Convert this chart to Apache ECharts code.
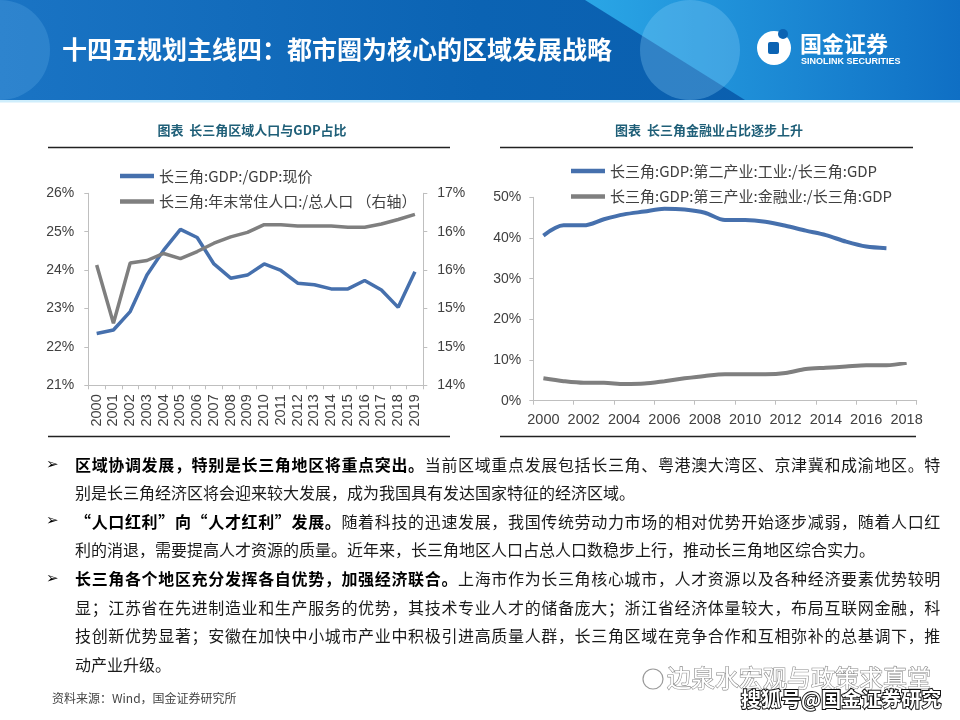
<!DOCTYPE html>
<html>
<head>
<meta charset="utf-8">
<script src="https://cdn.jsdelivr.net/npm/echarts@6/dist/echarts.min.js"></script>
<style>
html,body{margin:0;padding:0;background:#fff;}
#main{width:960px;height:720px;}
</style>
</head>
<body>
<div id="main"></div>
<script>
// ---------------- data ----------------
const yearsLeft = ['2000','2001','2002','2003','2004','2005','2006','2007','2008','2009','2010','2011','2012','2013','2014','2015','2016','2017','2018','2019'];
const gdpShare = [22.35,22.44,22.92,23.87,24.52,25.06,24.85,24.16,23.79,23.87,24.16,23.99,23.66,23.62,23.51,23.51,23.73,23.48,23.03,23.96];
const popShare = [15.88,14.97,15.91,15.95,16.06,15.98,16.09,16.22,16.32,16.39,16.51,16.51,16.49,16.49,16.49,16.47,16.47,16.52,16.59,16.67];
const leftAxisTicks = ['21%','22%','23%','24%','25%','26%'];
const rightAxisTicks = ['14%','15%','15%','16%','16%','17%'];

const yearsRight = ['2000','2001','2002','2003','2004','2005','2006','2007','2008','2009','2010','2011','2012','2013','2014','2015','2016','2017','2018'];
const industryShare = [40.6,43.1,43.1,44.6,45.8,46.5,47.2,47.0,46.2,44.4,44.4,44.0,43.0,41.8,40.7,39.1,37.9,37.5];
const financeShare = [5.5,4.8,4.4,4.4,4.1,4.2,4.8,5.5,6.1,6.5,6.5,6.5,6.8,7.8,8.1,8.4,8.7,8.7,9.3];

const nameGdp = '长三角:GDP:/GDP:现价';
const namePop = '长三角:年末常住人口:/总人口 （右轴）';
const nameInd = '长三角:GDP:第二产业:工业:/长三角:GDP';
const nameFin = '长三角:GDP:第三产业:金融业:/长三角:GDP';

const pageTitle = '十四五规划主线四：都市圈为核心的区域发展战略';
const leftTitle = '图表  长三角区域人口与GDP占比';
const rightTitle = '图表  长三角金融业占比逐步上升';

const bodyLines = [
  {b:'区域协调发展，特别是长三角地区将重点突出。', n:'当前区域重点发展包括长三角、粤港澳大湾区、京津冀和成渝地区。特', j:true, bullet:true},
  {b:'', n:'别是长三角经济区将会迎来较大发展，成为我国具有发达国家特征的经济区域。', j:false},
  {b:'“人口红利”向“人才红利”发展。', n:'随着科技的迅速发展，我国传统劳动力市场的相对优势开始逐步减弱，随着人口红', j:true, bullet:true},
  {b:'', n:'利的消退，需要提高人才资源的质量。近年来，长三角地区人口占总人口数稳步上行，推动长三角地区综合实力。', j:false},
  {b:'长三角各个地区充分发挥各自优势，加强经济联合。', n:'上海市作为长三角核心城市，人才资源以及各种经济要素优势较明', j:true, bullet:true},
  {b:'', n:'显；江苏省在先进制造业和生产服务的优势，其技术专业人才的储备庞大；浙江省经济体量较大，布局互联网金融，科', j:true},
  {b:'', n:'技创新优势显著；安徽在加快中小城市产业中积极引进高质量人群，长三角区域在竞争合作和互相弥补的总基调下，推', j:true},
  {b:'', n:'动产业升级。', j:false}
];
const sourceText = '资料来源：Wind，国金证券研究所';

// ---------------- styles ----------------
const BLUE = '#4670ad';
const GREY = '#7f7f7f';
const AXIS = '#bfbfbf';
const LABEL = '#404040';
const CJK = '"Noto Sans CJK SC", "Noto Sans", sans-serif';
const NUM = '"Liberation Sans", "Noto Sans CJK SC", sans-serif';

const chart = echarts.init(document.getElementById('main'), null, {renderer:'canvas'});

// body text graphics
const gfx = [];
const lineYs = [465, 492.5, 521.5, 550, 579, 607.5, 636, 664.5];
const xStart = 75, xEnd = 941;
bodyLines.forEach((ln, i) => {
  const y = lineYs[i];
  if (ln.bullet) {
    gfx.push({type:'text', x:46, y:y, silent:true, style:{text:'➢', fill:'#000', font:'15px "DejaVu Sans"', textVerticalAlign:'middle'}});
  }
  if (ln.j) {
    const chars = [...ln.b].map(c => ({c, b:true})).concat([...ln.n].map(c => ({c, b:false})));
    const pitch = (xEnd - xStart) / chars.length;
    chars.forEach((o, k) => {
      gfx.push({type:'text', x: xStart + k * pitch, y: y, silent:true,
        style:{text:o.c, fill: o.b ? '#000' : '#1a1a1a', font:(o.b ? 'bold ' : '') + '16px ' + CJK, textVerticalAlign:'middle'}});
    });
  } else {
    gfx.push({type:'text', x:xStart, y:y, silent:true,
      style:{text:ln.n, fill:'#1a1a1a', font:'16px ' + CJK, textVerticalAlign:'middle'}});
  }
});

const option = {
  backgroundColor:'#ffffff',
  animation:false,
  grid:[
    {left:88.3, top:193.3, width:335, height:192},
    {left:533.3, top:197.3, width:383.4, height:203.4}
  ],
  legend:[
    {data:[nameGdp, namePop], left:115, top:163.5, orient:'vertical', icon:'rect', itemWidth:34, itemHeight:4.5, itemGap:10.5,
     textStyle:{fontSize:15, color:LABEL, fontFamily:CJK, lineHeight:15}, selectedMode:false},
    {data:[nameInd, nameFin], left:566, top:158.5, orient:'vertical', icon:'rect', itemWidth:34, itemHeight:4.5, itemGap:10.5,
     textStyle:{fontSize:15, color:LABEL, fontFamily:CJK, lineHeight:15}, selectedMode:false}
  ],
  xAxis:[
    {type:'category', gridIndex:0, data:yearsLeft, boundaryGap:true,
     axisLine:{show:true, lineStyle:{color:AXIS, width:1}},
     axisTick:{show:true, interval:0, length:4, lineStyle:{color:AXIS}},
     axisLabel:{interval:0, rotate:90, margin:9, fontSize:14.5, color:LABEL, fontFamily:NUM}},
    {type:'category', gridIndex:1, data:yearsRight, boundaryGap:true,
     axisLine:{show:true, lineStyle:{color:AXIS, width:1}},
     axisTick:{show:true, interval:1, length:4, lineStyle:{color:AXIS}},
     axisLabel:{interval:1, margin:12, fontSize:14.5, color:LABEL, fontFamily:NUM}}
  ],
  yAxis:[
    {type:'value', gridIndex:0, min:21, max:26, interval:1, position:'left',
     axisLine:{show:true, lineStyle:{color:AXIS}}, axisTick:{show:true, length:4, lineStyle:{color:AXIS}},
     splitLine:{show:false},
     axisLabel:{margin:14, fontSize:14, color:LABEL, fontFamily:NUM, formatter:(v,i)=>leftAxisTicks[i]}},
    {type:'value', gridIndex:0, min:14, max:17, interval:0.6, position:'right',
     axisLine:{show:true, lineStyle:{color:AXIS}}, axisTick:{show:true, length:4, lineStyle:{color:AXIS}},
     splitLine:{show:false},
     axisLabel:{margin:14, fontSize:14, color:LABEL, fontFamily:NUM, formatter:(v,i)=>rightAxisTicks[i]}},
    {type:'value', gridIndex:1, min:0, max:50, interval:10,
     axisLine:{show:true, lineStyle:{color:AXIS}}, axisTick:{show:true, length:4, lineStyle:{color:AXIS}},
     splitLine:{show:false},
     axisLabel:{margin:12, fontSize:14, color:LABEL, fontFamily:NUM, formatter:v=>v+'%'}}
  ],
  series:[
    {name:nameGdp, type:'line', xAxisIndex:0, yAxisIndex:0, data:gdpShare, symbol:'none',
     lineStyle:{color:BLUE, width:3.5}, itemStyle:{color:BLUE}},
    {name:namePop, type:'line', xAxisIndex:0, yAxisIndex:1, data:popShare, symbol:'none',
     lineStyle:{color:GREY, width:3.5}, itemStyle:{color:GREY}},
    {name:nameInd, type:'line', xAxisIndex:1, yAxisIndex:2, data:industryShare, symbol:'none', smooth:0.3,
     lineStyle:{color:BLUE, width:4}, itemStyle:{color:BLUE}},
    {name:nameFin, type:'line', xAxisIndex:1, yAxisIndex:2, data:financeShare, symbol:'none', smooth:0.3,
     lineStyle:{color:GREY, width:4}, itemStyle:{color:GREY}}
  ],
  graphic:[
    // header banner
    {type:'rect', shape:{x:0, y:0, width:960, height:100}, silent:true,
     style:{fill:new echarts.graphic.LinearGradient(0,0,1,0,[{offset:0,color:'#1a74c4'},{offset:0.5,color:'#0b63b3'},{offset:1,color:'#0a5cab'}])}},
    {type:'sector', shape:{cx:0, cy:50, r0:0, r:50, startAngle:-Math.PI/2, endAngle:Math.PI/2}, silent:true, style:{fill:'rgba(120,190,240,0.22)'}},
    {type:'polygon', shape:{points:[[585,0],[960,0],[960,100],[745,100]]}, silent:true,
     style:{fill:new echarts.graphic.LinearGradient(0,0,1,0,[{offset:0,color:'#2aa6e6'},{offset:1,color:'#0f6fc4'}])}},
    {type:'circle', shape:{cx:690, cy:50, r:50}, silent:true, style:{fill:'rgba(140,210,250,0.3)'}},
    {type:'rect', shape:{x:0, y:100, width:960, height:2.5}, silent:true, style:{fill:'#cfeefc'}},
    {type:'text', x:62, y:49, silent:true,
     style:{text:pageTitle, fill:'#ffffff', font:'bold 25px ' + CJK, textVerticalAlign:'middle'}},
    // logo
    {type:'circle', shape:{cx:774, cy:48, r:17}, silent:true, style:{fill:'#ffffff'}},
    {type:'rect', shape:{x:768, y:42, width:11, height:12, r:2}, silent:true, style:{fill:'#0b63b3'}},
    {type:'circle', shape:{cx:783, cy:34, r:5}, silent:true, style:{fill:'#0b63b3'}},
    {type:'text', x:800, y:44, silent:true, style:{text:'国金证券', fill:'#ffffff', font:'bold 22px ' + CJK, textVerticalAlign:'middle'}},
    {type:'text', x:801, y:62, silent:true, style:{text:'SINOLINK SECURITIES', fill:'#ffffff', font:'bold 9px "Liberation Sans"', textVerticalAlign:'middle'}},
    // chart titles and rules
    {type:'text', x:252, y:130, silent:true, style:{text:leftTitle, fill:'#1f5f78', font:'bold 13px ' + CJK, textAlign:'center', textVerticalAlign:'middle'}},
    {type:'text', x:709, y:130, silent:true, style:{text:rightTitle, fill:'#1f5f78', font:'bold 13px ' + CJK, textAlign:'center', textVerticalAlign:'middle'}},
    {type:'line', shape:{x1:48, y1:147.5, x2:450, y2:147.5}, silent:true, style:{stroke:'#222', lineWidth:1.3}},
    {type:'line', shape:{x1:48, y1:436.5, x2:450, y2:436.5}, silent:true, style:{stroke:'#222', lineWidth:1.3}},
    {type:'line', shape:{x1:500, y1:147.5, x2:913, y2:147.5}, silent:true, style:{stroke:'#222', lineWidth:1.3}},
    {type:'line', shape:{x1:500, y1:436.5, x2:916, y2:436.5}, silent:true, style:{stroke:'#222', lineWidth:1.3}},
    // footer
    {type:'text', x:52, y:698, silent:true, style:{text:sourceText, fill:'#444', font:'12px ' + CJK, textVerticalAlign:'middle'}},
    {type:'circle', shape:{cx:653, cy:679, r:10}, silent:true, style:{fill:'none', stroke:'#9a9a9a', lineWidth:1.2}},
    {type:'text', x:667, y:678, silent:true, style:{text:'边泉水宏观与政策求真堂', fill:'#ffffff', stroke:'#8a8a8a', lineWidth:1.2, font:'24px ' + CJK, textVerticalAlign:'middle'}},
    {type:'text', x:741, y:699, silent:true, style:{text:'搜狐号@国金证券研究', fill:'#ffffff', stroke:'#111', lineWidth:2, font:'bold 20px ' + CJK, textVerticalAlign:'middle'}}
  ].concat(gfx)
};
chart.setOption(option);
</script>
</body>
</html>
